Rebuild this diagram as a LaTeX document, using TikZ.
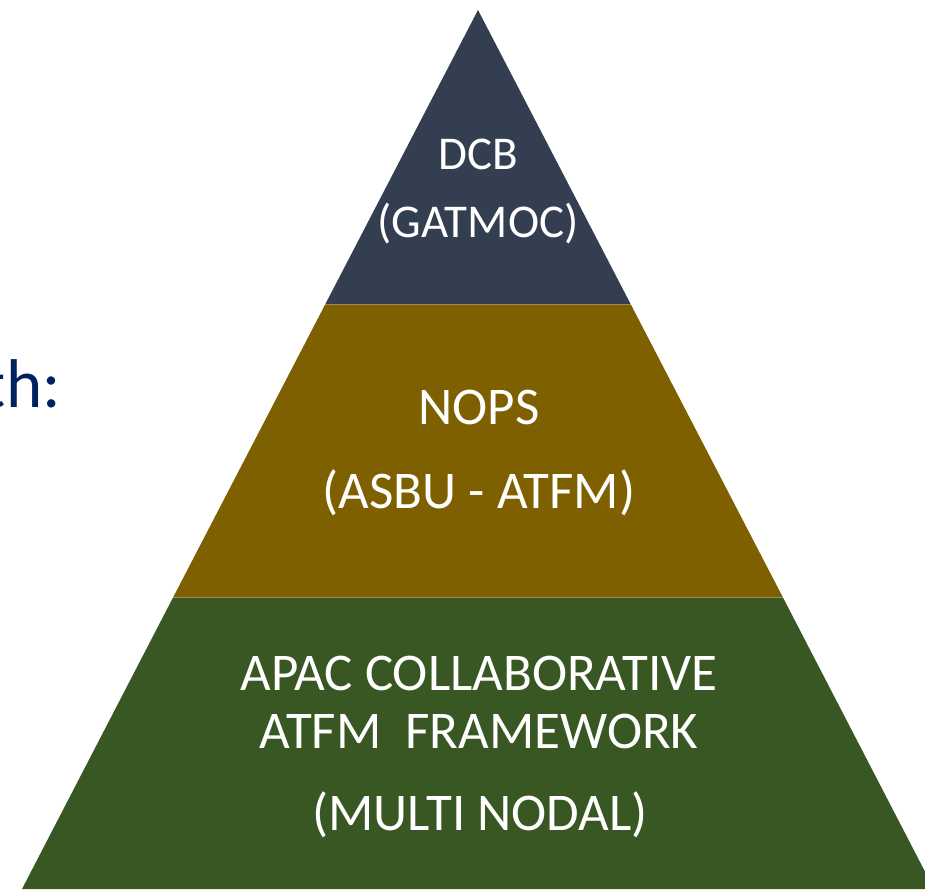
\documentclass[tikz,border=0pt]{standalone}
\usepackage{fontspec}
\setmainfont{Carlito}
\definecolor{topc}{HTML}{333F50}
\definecolor{midc}{HTML}{7F6000}
\definecolor{botc}{HTML}{385723}
\definecolor{navy}{HTML}{002060}
\definecolor{seam}{HTML}{9A8A5A}
\begin{document}
\begin{tikzpicture}[x=1pt,y=-1pt,
  lbl/.style={text=white,inner sep=0pt,anchor=base},
  toplbl/.style={lbl,font=\fontsize{47}{54}\selectfont},
  lowlbl/.style={lbl,font=\fontsize{53}{60}\selectfont}]
\useasboundingbox (0,0) rectangle (925,889);
\clip (0,0) rectangle (925,889);
% layers
\coordinate (apex) at (478,10);
\coordinate (t1l) at (325.4,304);
\coordinate (t1r) at (630.6,304);
\coordinate (t2l) at (173.3,597);
\coordinate (t2r) at (782.7,597);
\coordinate (bl) at (22,889);
\coordinate (br) at (934,889);
\fill[botc] (t2l) -- (t2r) -- (br) -- (bl) -- cycle;
\fill[midc] (t1l) -- (t1r) -- (t2r) -- (t2l) -- cycle;
\fill[topc] (apex) -- (t1r) -- (t1l) -- cycle;
\draw[seam,line width=0.8pt] (t1l) -- (t1r);
\draw[seam,line width=0.8pt] (t2l) -- (t2r);
% labels
\node[toplbl] (dcb) at (478,169) {DCB};
\node[toplbl] (gat) at (478,237) {(GATMOC)};
\node[lowlbl] (nops) at (479,424) {NOPS};
\node[lowlbl] (asbu) at (479,508) {(ASBU - ATFM)};
\node[lowlbl] (apac) at (479,690) {APAC COLLABORATIVE};
\node[lowlbl] (fw) at (479,748) {ATFM\ \ FRAMEWORK};
\node[lowlbl] (mn) at (480,830) {(MULTI NODAL)};
\node[text=navy,inner sep=0pt,anchor=base east,font=\fontsize{69}{74}\selectfont] (th) at (61,407) {th:};
\end{tikzpicture}
\end{document}
